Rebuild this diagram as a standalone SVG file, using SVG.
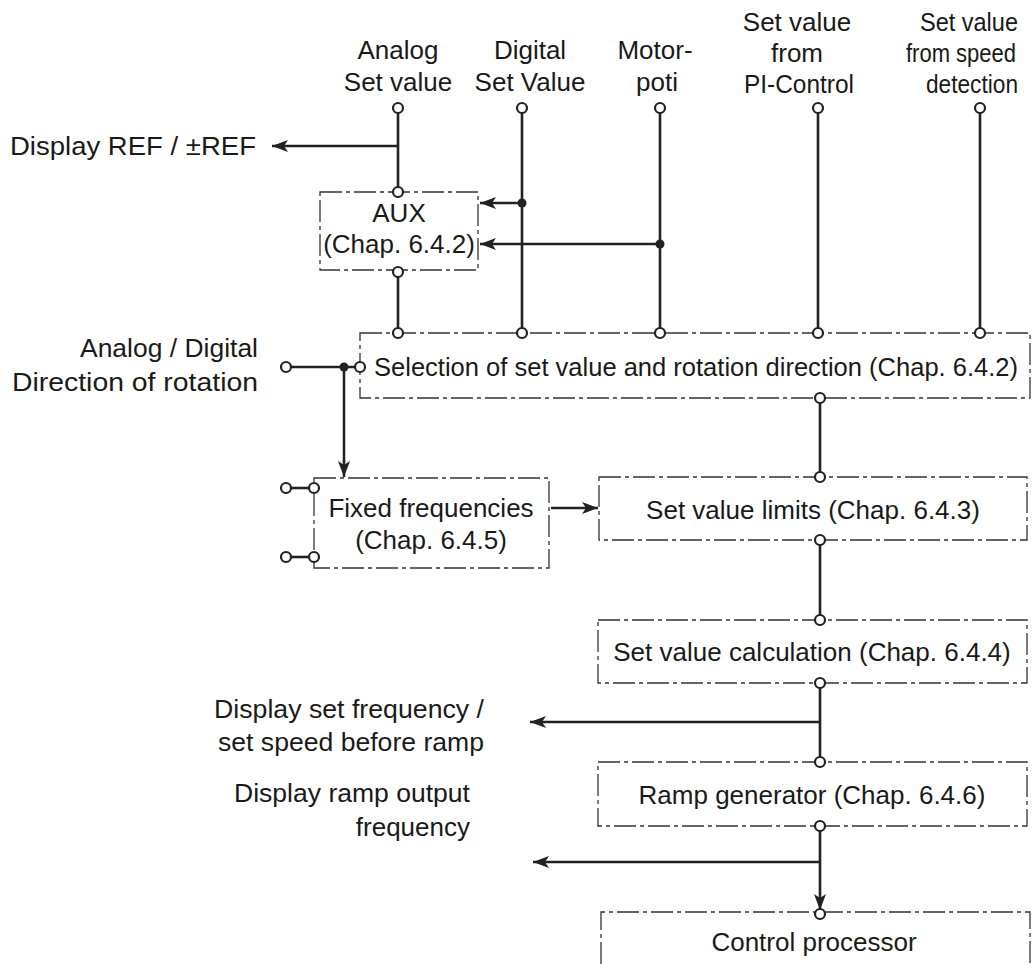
<svg xmlns="http://www.w3.org/2000/svg" width="1033" height="964" viewBox="0 0 1033 964">
<style>
text{font-family:"Liberation Sans",Arial,sans-serif;font-size:26px;fill:#1a1a1a}
.m{text-anchor:middle}
.e{text-anchor:end}
.r{font-size:25px}
.box{fill:none;stroke:#333;stroke-width:1.3;stroke-dasharray:22 4 4 4}
.w{fill:none;stroke:#222;stroke-width:2.6}
.a{fill:none;stroke:#222;stroke-width:2.6;marker-end:url(#arr)}
.c{fill:#fff;stroke:#222;stroke-width:2.2}
.d{fill:#222}
</style>
<defs>
<marker id="arr" markerUnits="userSpaceOnUse" markerWidth="18" markerHeight="14" refX="16" refY="6" orient="auto">
<path d="M0,0 L16,6 L0,12 L4,6 z" fill="#222"/>
</marker>
</defs>
<rect width="1033" height="964" fill="#fff"/>

<g id="labels">
<text class="m" x="398" y="59">Analog</text>
<text class="m" x="398" y="91">Set value</text>
<text class="m" x="530" y="59">Digital</text>
<text class="m" x="530" y="91">Set Value</text>
<text class="m" x="655" y="59">Motor-</text>
<text class="m" x="657" y="91">poti</text>
<text class="m" x="797" y="31">Set value</text>
<text class="m" x="797" y="62">from</text>
<text class="m" x="799" y="93" textLength="110" lengthAdjust="spacingAndGlyphs">PI-Control</text>
<text class="m r" x="969" y="31" textLength="98" lengthAdjust="spacingAndGlyphs">Set value</text>
<text class="m r" x="961" y="62" textLength="110" lengthAdjust="spacingAndGlyphs">from speed</text>
<text class="m r" x="972" y="93" textLength="92" lengthAdjust="spacingAndGlyphs">detection</text>
<text x="10" y="155" textLength="246" lengthAdjust="spacingAndGlyphs">Display REF / ±REF</text>
<text class="e" x="258" y="357" textLength="178" lengthAdjust="spacingAndGlyphs">Analog / Digital</text>
<text class="e" x="258" y="391" textLength="246" lengthAdjust="spacingAndGlyphs">Direction of rotation</text>
<text class="e" x="484" y="718" textLength="270" lengthAdjust="spacingAndGlyphs">Display set frequency /</text>
<text class="e" x="484" y="751" textLength="266" lengthAdjust="spacingAndGlyphs">set speed before ramp</text>
<text class="e" x="470" y="802" textLength="236" lengthAdjust="spacingAndGlyphs">Display ramp output</text>
<text class="e" x="470" y="836">frequency</text>
</g>

<g id="aux">
<rect class="box" x="320" y="192" width="158" height="78"/>
<text class="m" x="399" y="222">AUX</text>
<text class="m" x="399" y="253">(Chap. 6.4.2)</text>
</g>

<g id="selection">
<rect class="box" x="360" y="333" width="670" height="65"/>
<text x="374" y="376" textLength="644" lengthAdjust="spacingAndGlyphs">Selection of set value and rotation direction (Chap. 6.4.2)</text>
</g>

<g id="fixed">
<rect class="box" x="314" y="478" width="235" height="90"/>
<text class="m" x="431" y="517">Fixed frequencies</text>
<text class="m" x="431" y="549">(Chap. 6.4.5)</text>
</g>

<g id="limits">
<rect class="box" x="599" y="477" width="428" height="63"/>
<text class="m" x="813" y="519">Set value limits (Chap. 6.4.3)</text>
</g>

<g id="calc">
<rect class="box" x="598" y="620" width="429" height="63"/>
<text class="m" x="812" y="661">Set value calculation (Chap. 6.4.4)</text>
</g>

<g id="ramp">
<rect class="box" x="598" y="762" width="429" height="64"/>
<text class="m" x="812" y="804">Ramp generator (Chap. 6.4.6)</text>
</g>

<g id="control">
<path class="box" d="M601,964 V912 H1030 V964"/>
<text class="m" x="814" y="951">Control processor</text>
</g>

<g id="connectors">
<line class="w" x1="398" y1="113" x2="398" y2="187"/>
<line class="a" x1="398" y1="146" x2="272" y2="146"/>
<line class="w" x1="522" y1="113" x2="522" y2="328"/>
<line class="a" x1="522" y1="203" x2="480" y2="203"/>
<line class="w" x1="660" y1="113" x2="660" y2="328"/>
<line class="a" x1="660" y1="244" x2="480" y2="244"/>
<line class="w" x1="818" y1="113" x2="818" y2="328"/>
<line class="w" x1="980" y1="113" x2="980" y2="328"/>
<line class="w" x1="398" y1="277" x2="398" y2="328"/>
<line class="w" x1="291" y1="367" x2="355" y2="367"/>
<line class="a" x1="344" y1="367" x2="344" y2="477"/>
<line class="w" x1="291" y1="488" x2="309" y2="488"/>
<line class="w" x1="291" y1="557" x2="309" y2="557"/>
<line class="a" x1="551" y1="508" x2="598" y2="508"/>
<line class="w" x1="820" y1="403" x2="820" y2="472"/>
<line class="w" x1="820" y1="545" x2="820" y2="615"/>
<line class="w" x1="820" y1="688" x2="820" y2="757"/>
<line class="a" x1="820" y1="722" x2="530" y2="722"/>
<line class="a" x1="820" y1="831" x2="820" y2="910"/>
<line class="a" x1="820" y1="862" x2="533" y2="862"/>
<circle class="c" cx="398" cy="108" r="5"/>
<circle class="c" cx="522" cy="108" r="5"/>
<circle class="c" cx="660" cy="108" r="5"/>
<circle class="c" cx="818" cy="108" r="5"/>
<circle class="c" cx="980" cy="108" r="5"/>
<circle class="c" cx="398" cy="192" r="5"/>
<circle class="c" cx="398" cy="272" r="5"/>
<circle class="c" cx="398" cy="333" r="5"/>
<circle class="c" cx="522" cy="333" r="5"/>
<circle class="c" cx="660" cy="333" r="5"/>
<circle class="c" cx="818" cy="333" r="5"/>
<circle class="c" cx="980" cy="333" r="5"/>
<circle class="c" cx="286" cy="367" r="5"/>
<circle class="c" cx="360" cy="367" r="5"/>
<circle class="c" cx="286" cy="488" r="5"/>
<circle class="c" cx="314" cy="488" r="5"/>
<circle class="c" cx="286" cy="557" r="5"/>
<circle class="c" cx="314" cy="557" r="5"/>
<circle class="c" cx="820" cy="398" r="5"/>
<circle class="c" cx="820" cy="477" r="5"/>
<circle class="c" cx="820" cy="540" r="5"/>
<circle class="c" cx="820" cy="620" r="5"/>
<circle class="c" cx="820" cy="683" r="5"/>
<circle class="c" cx="820" cy="762" r="5"/>
<circle class="c" cx="820" cy="826" r="5"/>
<circle class="c" cx="820" cy="914" r="5"/>
<circle class="d" cx="522" cy="203" r="4.5"/>
<circle class="d" cx="660" cy="244" r="4.5"/>
<circle class="d" cx="344" cy="367" r="4.5"/>
</g>
</svg>
